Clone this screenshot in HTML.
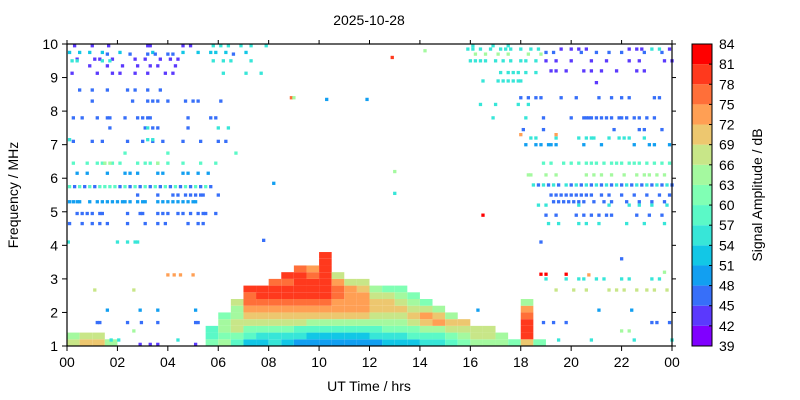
<!DOCTYPE html>
<html><head><meta charset="utf-8">
<style>
html,body{margin:0;padding:0;background:#fff;}
svg{display:block;font-family:"Liberation Sans",Arial,sans-serif;}
</style></head>
<body>
<svg id="chart" width="800" height="400" viewBox="0 0 800 400" xmlns="http://www.w3.org/2000/svg">
  <g id="marks"></g>
  <g id="axes"></g>
</svg>
<script>
// ---- data ----
const gridHourStep = 0.5;
const gridFreqStep = 0.2;
const gridFreqStart = 1.0;
// each string: one half-hour column, codes bottom->top per 0.2 MHz row (hex level, '.' empty)
const gridCols = ["98","a9","a9","8","","","","","","","","766","87887","6799889","4679abccd","4579abcdd","5579abcddc","4579abcddcd","3569abcddddc","3468abcdddcb","3468abcddddddd","3468abbccb9","3468abbbb9","3468abbba9","35689aa98","45789aa97","45789a987","4679a987","568ab97","568ba8","679a8","789a","899","899","88","7","adddcb8","7","","","","","","","","","",""];
const levelValues = [39,42,45,48,51,54,57,60,63,66,69,72,75,78,81,84];
const scatterFreqs = [9.95,9.95,9.75,9.7,9.55,9.5,9.35,9.13,9.13,8.63,8.3,7.8,7.5,7.5,7.1,7.15,6.75,6.45,6.45,6.15,5.75,5.75,5.5,5.3,4.95,4.65,4.1,4.15,
 8.4,8.4,8.35,9.6,9.8,6.2,5.55,5.85,4.9,
 9.85,9.7,9.85,9.75,9.5,9.5,9.2,9.15,8.9,8.85,8.4,8.2,7.8,7.8,7.45,7.2,7.3,7.0,6.45,6.1,5.8,5.8,5.5,5.3,5.2,4.9,4.65,4.1,
 3.12,3.14,3.0,3.6,3.2,2.67,2.07,1.7,1.45,1.18,1.05];
const scatterLevels = [1,5,4,2,1,5,1,1,5,2,2,2,2,5,2,5,6,6,8,3,6,2,2,3,2,2,5,2,
 12,8,3,13,8,8,5,3,14,
 5,8,1,2,5,1,1,5,5,1,2,5,5,2,2,5,11,3,6,8,5,2,2,2,5,2,5,2,
 11,14,5,2,8,9,3,2,8,5,1];
const scatterHours = [
 [0.3,1.0,1.65,3.2,3.3,4.6,4.9],
 [5.8,6.1,6.4,6.9,7.3,7.9,16.1,16.9,17.5],
 [0.1,0.5,0.9,1.4,2.1,3.4,4.6,5.2,5.7,5.9,6.3,7.1],
 [1.6,2.5,3.2,3.5,4.0,4.2,6.6],
 [0.4,1.1,1.3,1.8,2.7,3.1,3.7,4.1,4.4],
 [0.2,0.4,1.4,1.7,5.8,6.2,6.5,7.3],
 [0.9,1.6,2.2,2.8,3.3,3.6,4.3],
 [0.2,1.2,1.8,2.1,2.7,3.2,3.9,4.2],
 [6.2,7.1,7.7],
 [0.5,1.0,1.6,2.4,2.7,3.2,3.7],
 [1.0,2.6,3.2,3.4,3.6,4.0,4.7,5.0,5.2,6.1],
 [0.25,0.6,1.2,1.6,1.7,2.3,2.8,3.0,3.2,3.3,4.8,5.7,5.9],
 [1.7,3.1,3.4,3.6,4.8],
 [6.0,6.4,3.2],
 [0.25,1.0,1.4,2.4,3.0,3.4,3.8,4.6,5.3,6.0,6.3],
 [0.1,3.2,3.4],
 [2.3,4.0,6.7],
 [0.25,0.8,1.2,1.4,1.5,1.8,2.1,2.8,3.1,3.3,3.6,4.0,4.6,5.3,5.9],
 [1.5,1.7,3.6],
 [0.4,0.8,1.6,2.3,2.5,2.8,3.6,3.8,4.6,4.8,5.2,5.6],
 [0.1,0.5,0.9,1.3,1.5,1.7,1.9,2.3,2.7,3.1,3.5,3.9,4.3,4.7,5.1,5.5],
 [0.3,0.7,1.1,2.1,2.5,2.9,3.3,3.7,4.1,4.5,4.9,5.3,5.7],
 [2.8,3.6,4.2,4.4,4.7,4.9,5.1,5.3,5.4,6.0],
 [0.1,0.25,0.4,0.5,0.9,1.2,1.4,1.6,1.8,2.0,2.2,2.3,2.5,2.8,3.0,3.1,3.6,3.8,4.0,4.2,4.4,4.6,4.8,5.0,5.1],
 [0.4,0.6,0.8,1.0,1.3,1.4,2.4,2.9,3.0,3.6,3.8,4.0,4.4,4.6,4.9,5.2,5.4,5.5,5.9],
 [0.1,0.6,1.0,1.3,1.6,2.4,3.1,3.6,3.9,4.8,5.2,5.4],
 [0.05,2.0,2.4,2.7,2.8],
 [7.8],
 [8.9],[9.0],[10.3,11.9],[12.9],[14.2],[13.0],[13.0],[8.2],[16.5],
 [15.9,16.1,16.4,16.8,17.2,17.4,17.6,18.0,18.4,18.7,23.2,23.5],
 [16.2,16.6,17.1,17.5,18.3,18.8],
 [19.6,20.0,20.3,20.6,22.3,22.6,22.8,23.9],
 [19.0,19.3,20.4,21.0,21.5,22.0,22.9,23.6],
 [16.0,16.2,16.4,16.6,17.0,17.3,17.6,18.0,18.2,18.6],
 [19.0,19.4,20.0,20.8,21.4,22.3,22.7,23.7,24.0],
 [19.2,19.4,19.8,20.5,20.8,21.2,21.8,22.6,22.9],
 [17.2,17.5,17.7,17.9,18.2,18.6],
 [16.5,17.1,17.3,17.5,17.7,17.9,18.0],
 [21.0],
 [18.0,18.3,18.6,18.8,19.6,20.2,21.1,21.6,22.0,22.3,23.3,23.5],
 [16.4,17.0,17.9,18.3],
 [16.9,18.2],
 [18.9,20.0,20.5,20.6,20.7,20.8,21.0,21.2,21.4,21.6,21.9,22.0,22.2,22.5,22.7,23.0,23.3],
 [18.1,18.9,21.7,22.7,22.9,23.6],
 [18.4,18.6,19.4,20.3,20.6,20.8,20.9,21.5,21.9,22.1,22.3,22.9],
 [18.0,19.4],
 [18.2,18.6,18.8,19.1,19.2,19.4,20.5,21.2,22.5,23.1,23.3,23.9],
 [18.9,19.2,19.7,20.0,20.3,20.6,20.8,21.0,21.3,21.6,21.8,22.0,22.3,22.5,22.7,23.0,23.3,23.6,23.9],
 [18.3,18.4,19.0,19.4,20.6,20.9,21.2,21.6,22.1,22.6,22.9,23.1,23.4,23.7],
 [18.5,18.9,19.3,19.8,20.2,20.6,21.0,21.4,21.8,22.2,22.6,23.0,23.4,23.8],
 [18.7,19.1,19.5,20.0,20.4,20.8,21.2,21.6,22.0,22.4,22.8,23.2,23.6,24.0],
 [19.2,19.4,19.6,19.8,20.0,20.2,20.4,20.6,20.8,21.2,21.5,22.0,22.5,23.0,23.5,23.9],
 [19.3,19.5,19.7,19.9,20.1,20.3,20.5,20.9,21.3,21.6,22.2,22.7,23.2,23.7],
 [18.7,19.0,20.3,21.5,22.3,22.7,23.2,23.8],
 [19.0,19.4,20.2,20.5,20.8,21.1,21.4,21.6,22.6,23.1,23.6],
 [19.1,19.5,20.3,20.6,21.1,22.2,22.9,23.7],
 [18.8],
 [4.0,4.25,4.5,5.0,20.7],
 [18.8,19.0,19.8],
 [19.0,19.8,20.3,20.5,21.0,21.3,22.0,22.3,23.2,23.5],
 [22.0],[23.7],
 [1.1,2.65,19.4,20.1,20.6,21.5,21.8,22.1,22.6,23.0,23.3,23.8],
 [1.6,2.9,3.6,5.1,16.3,21.1,22.4],
 [1.2,1.3,2.4,2.95,3.6,5.1,5.2,18.9,19.3,19.8,23.2,23.4,23.9],
 [2.65,22.0,22.3],
 [1.75,2.05,4.4,19.5,20.8,22.5,24.0],
 [2.9,3.3,3.6,5.1]
];
const xTickHours = [0,2,4,6,8,10,12,14,16,18,20,22,24];
const xTickLabels = ["00","02","04","06","08","10","12","14","16","18","20","22","00"];
const yTicks = [1,2,3,4,5,6,7,8,9,10];

// ---- layout ----
const X0=67, X1=672, Y0=346, Y1=44;
const xs = h => X0 + h*(X1-X0)/24;
const ys = f => Y0 - (f-1)*(Y0-Y1)/9;
const NS="http://www.w3.org/2000/svg";
function rainbow(t){
  const r=Math.min(1,Math.abs(2*t-0.5)), g=Math.sin(Math.PI*t), b=Math.cos(Math.PI*t/2);
  const c=v=>Math.round(Math.max(0,Math.min(1,v))*255);
  return `rgb(${c(r)},${c(g)},${c(b)})`;
}
const lvlColor = k => rainbow(Math.min(14,k)/14);
function mk(tag, attrs, parent){ const e=document.createElementNS(NS,tag); for(const k in attrs) e.setAttribute(k,attrs[k]); parent.appendChild(e); return e; }
const marks=document.getElementById('marks'), axes=document.getElementById('axes');

// grid cells
gridCols.forEach((col,ci)=>{
  for(let ri=0; ri<col.length; ri++){
    const ch=col[ri]; if(ch==='.') continue;
    const k=parseInt(ch,16);
    const h=ci*gridHourStep, f=gridFreqStart+ri*gridFreqStep;
    const x=xs(h), w=xs(h+gridHourStep)-x, yTop=ys(f+gridFreqStep), hh=ys(f)-yTop;
    const r=mk('rect',{x:x.toFixed(2),y:yTop.toFixed(2),width:w.toFixed(2),height:hh.toFixed(2),fill:lvlColor(k)},marks);
    
    
  }
});
// scatter dots
scatterFreqs.forEach((f,i)=>{
  scatterHours[i].forEach(h=>{
    const r=mk('rect',{x:(xs(h)-1.6).toFixed(2),y:(ys(f)-1.6).toFixed(2),width:3.3,height:3.3,fill:lvlColor(scatterLevels[i])},marks);
    
    
  });
});

// frame
const fr=mk('rect',{x:X0,y:Y1,width:X1-X0,height:Y0-Y1,fill:'none',stroke:'#000','stroke-width':1.2},axes);


xTickHours.forEach((h,i)=>{
  const x=xs(h);
  mk('line',{x1:x,x2:x,y1:Y0,y2:Y0+5,stroke:'#000'},axes);
  mk('line',{x1:x,x2:x,y1:Y1,y2:Y1-4,stroke:'#000'},axes);
  const t=mk('text',{x:x,y:Y0+21,'text-anchor':'middle','font-size':14},axes);
  t.textContent=xTickLabels[i];
  
  
});
yTicks.forEach(f=>{
  const y=ys(f);
  mk('line',{x1:X0-5,x2:X0,y1:y,y2:y,stroke:'#000'},axes);
  mk('line',{x1:X1,x2:X1+4,y1:y,y2:y,stroke:'#000'},axes);
  const t=mk('text',{x:X0-9,y:y+5,'text-anchor':'end','font-size':14},axes);
  t.textContent=String(f);
  
  
});
let t=mk('text',{x:369,y:25,'text-anchor':'middle','font-size':14},axes); t.textContent='2025-10-28';
 
t=mk('text',{x:369,y:391,'text-anchor':'middle','font-size':14},axes); t.textContent='UT Time / hrs';
 
t=mk('text',{x:0,y:0,'text-anchor':'middle','font-size':14,transform:'translate(18,195) rotate(-90)'},axes); t.textContent='Frequency / MHz';
 

// colorbar
const CB0=692, CB1=712;
const cbY = v => Y0 - (v-39)*(Y0-Y1)/45;
const cb=mk('g',{},axes);
 
for(let k=0;k<15;k++){
  const yT=cbY(levelValues[k+1]), yB=cbY(levelValues[k]);
  const r=mk('rect',{x:CB0,y:yT,width:CB1-CB0,height:yB-yT,fill:lvlColor(k)},cb);
   
}
mk('rect',{x:CB0,y:Y1,width:CB1-CB0,height:Y0-Y1,fill:'none',stroke:'#000','stroke-width':1},cb);
levelValues.forEach(v=>{
  const y=cbY(v);
  mk('line',{x1:CB1-3,x2:CB1,y1:y,y2:y,stroke:'#000'},cb);
  const tt=mk('text',{x:CB1+7,y:y+5,'font-size':14},cb); tt.textContent=String(v);
   
});
t=mk('text',{x:0,y:0,'text-anchor':'middle','font-size':14,transform:'translate(762,195) rotate(-90)'},cb); t.textContent='Signal Amplitude / dB';
 
</script>
</body></html>
